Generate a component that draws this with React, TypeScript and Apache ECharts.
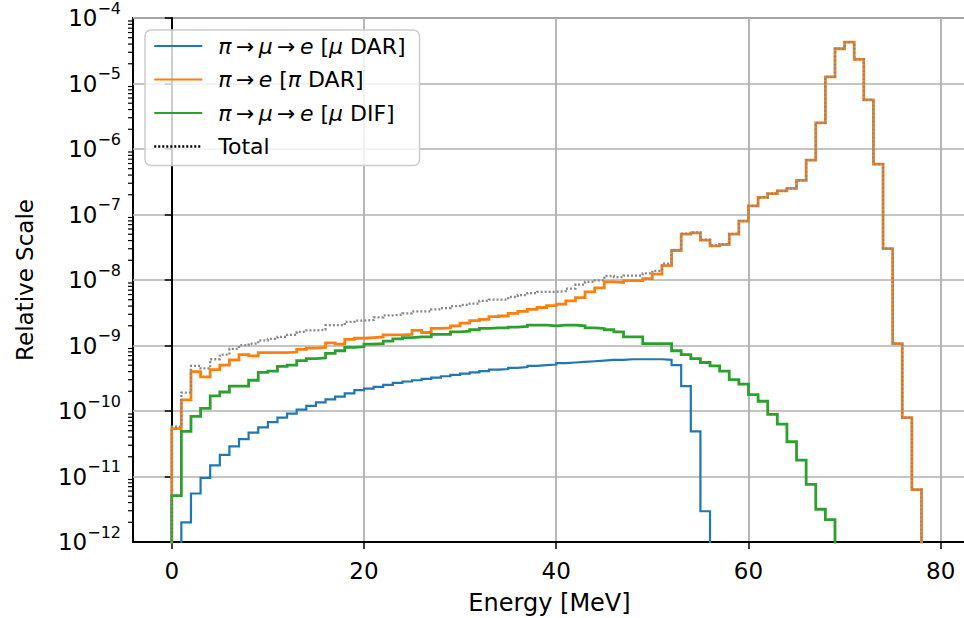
import React, { useEffect, useRef } from 'react';
import * as echarts from 'echarts';

// Histogram bins: 1 MeV wide, bin k spans [k, k+1] MeV
const MU_DAR = [0, 2.0e-12, 5.5e-12, 9.5e-12, 1.48e-11, 2.14e-11, 2.88e-11, 3.72e-11, 4.68e-11, 5.62e-11,
  6.76e-11, 7.94e-11, 9.12e-11, 1.05e-10, 1.2e-10, 1.35e-10, 1.51e-10, 1.66e-10, 1.86e-10, 2.09e-10,
  2.19e-10, 2.34e-10, 2.51e-10, 2.69e-10, 2.82e-10, 2.95e-10, 3.09e-10, 3.24e-10, 3.39e-10, 3.55e-10,
  3.72e-10, 3.89e-10, 4.07e-10, 4.27e-10, 4.37e-10, 4.57e-10, 4.68e-10, 4.9e-10, 5.01e-10, 5.13e-10,
  5.37e-10, 5.5e-10, 5.62e-10, 5.75e-10, 5.89e-10, 6.03e-10, 6.03e-10, 6.17e-10, 6.17e-10, 6.17e-10,
  6.17e-10, 6.03e-10, 5.01e-10, 2.4e-10, 4.9e-11, 2.95e-12];

const PI_DAR = [5.4e-11, 1.48e-10, 3.98e-10, 3.31e-10, 4.27e-10, 5.01e-10, 6.03e-10, 7.24e-10, 6.92e-10, 7.76e-10,
  7.76e-10, 7.76e-10, 7.94e-10, 8.71e-10, 9.12e-10, 9.33e-10, 1.1e-9, 1.05e-9, 1.24e-9, 1.29e-9,
  1.32e-9, 1.35e-9, 1.45e-9, 1.45e-9, 1.48e-9, 1.7e-9, 1.58e-9, 1.82e-9, 1.86e-9, 2.0e-9,
  2.19e-9, 2.4e-9, 2.51e-9, 2.75e-9, 2.82e-9, 3.09e-9, 3.31e-9, 3.55e-9, 3.8e-9, 4.07e-9,
  4.27e-9, 4.79e-9, 5.37e-9, 6.61e-9, 7.59e-9, 9.33e-9, 9.12e-9, 9.77e-9, 9.77e-9, 1.05e-8,
  1.23e-8, 1.66e-8, 2.82e-8, 5.01e-8, 5.25e-8, 4.07e-8, 3.31e-8, 3.47e-8, 5.01e-8, 7.94e-8,
  1.35e-7, 1.82e-7, 2.09e-7, 2.29e-7, 2.51e-7, 3.31e-7, 6.76e-7, 2.51e-6, 1.26e-5, 3.39e-5,
  4.27e-5, 2.34e-5, 5.62e-6, 5.89e-7, 3.02e-8, 1.07e-9, 7.94e-11, 6.31e-12];

const MU_DIF = [5.1e-12, 4.9e-11, 8.3e-11, 1.1e-10, 1.7e-10, 1.95e-10, 2.4e-10, 2.4e-10, 2.95e-10, 3.89e-10,
  4.07e-10, 4.79e-10, 5.01e-10, 5.89e-10, 6.31e-10, 6.46e-10, 7.59e-10, 8.32e-10, 9.33e-10, 9.55e-10,
  1.05e-9, 1.07e-9, 1.17e-9, 1.26e-9, 1.32e-9, 1.35e-9, 1.35e-9, 1.48e-9, 1.48e-9, 1.62e-9,
  1.66e-9, 1.74e-9, 1.82e-9, 1.86e-9, 1.86e-9, 1.91e-9, 1.95e-9, 2.04e-9, 2.04e-9, 2.0e-9,
  2.04e-9, 2.04e-9, 2.0e-9, 1.86e-9, 1.82e-9, 1.74e-9, 1.62e-9, 1.35e-9, 1.35e-9, 1.07e-9,
  1.07e-9, 1.07e-9, 8.32e-10, 7.24e-10, 6.31e-10, 5.5e-10, 4.9e-10, 4.07e-10, 3.02e-10, 2.57e-10,
  1.78e-10, 1.41e-10, 8.91e-11, 6.31e-11, 3.39e-11, 1.78e-11, 7.59e-12, 3.16e-12, 2.19e-12];

const TOTAL = [5.75e-11, 1.91e-10, 4.9e-10, 4.47e-10, 6.17e-10, 7.24e-10, 8.91e-10, 1.01e-9, 1.07e-9, 1.2e-9,
  1.26e-9, 1.35e-9, 1.45e-9, 1.62e-9, 1.7e-9, 1.74e-9, 2.04e-9, 2.04e-9, 2.29e-9, 2.4e-9,
  2.45e-9, 2.69e-9, 2.88e-9, 2.95e-9, 3.09e-9, 3.31e-9, 3.31e-9, 3.55e-9, 3.72e-9, 3.98e-9,
  4.17e-9, 4.37e-9, 4.79e-9, 5.01e-9, 5.01e-9, 5.5e-9, 5.89e-9, 6.31e-9, 6.61e-9, 6.61e-9,
  6.76e-9, 7.41e-9, 8.51e-9, 9.33e-9, 9.89e-9, 1.15e-8, 1.11e-8, 1.17e-8, 1.17e-8, 1.26e-8,
  1.38e-8, 1.78e-8, 2.88e-8, 5.09e-8, 5.32e-8, 4.13e-8, 3.37e-8, 3.52e-8, 5.05e-8, 7.97e-8,
  1.35e-7, 1.82e-7, 2.09e-7, 2.29e-7, 2.51e-7, 3.31e-7, 6.76e-7, 2.51e-6, 1.26e-5, 3.39e-5,
  4.27e-5, 2.34e-5, 5.62e-6, 5.89e-7, 3.02e-8, 1.07e-9, 7.94e-11, 6.31e-12];

const X_TICKS = [0, 20, 40, 60, 80];
const Y_DECADES = [-12, -11, -10, -9, -8, -7, -6, -5];
const MINOR_MULTS = [2, 3, 4, 5, 6, 7, 8, 9];

const NAMES = {
  muDar: 'π→μ→e [μ DAR]',
  piDar: 'π→e [π DAR]',
  muDif: 'π→μ→e [μ DIF]',
  total: 'Total',
};

const LEGEND_RICH: Record<string, string> = {
  [NAMES.muDar]: '{i|π}{n|\u2009→\u2009}{i|μ}{n|\u2009→\u2009}{i|e}{n| [}{i|μ}{n| DAR]}',
  [NAMES.piDar]: '{i|π}{n|\u2009→\u2009}{i|e}{n| [}{i|π}{n| DAR]}',
  [NAMES.muDif]: '{i|π}{n|\u2009→\u2009}{i|μ}{n|\u2009→\u2009}{i|e}{n| [}{i|μ}{n| DIF]}',
  [NAMES.total]: '{n|Total}',
};

const EMPTY = 1e-13; // empty bins are drawn below the axis floor
const X_MIN = -4.03;
const X_MAX = 82.63;
const FONT = 'DejaVu Sans';
const FS_TICK = 23;
const FS_NAME = 23;
const FS_LEG = 22;

function stepPoints(vals: number[]): [number, number][] {
  const pts: [number, number][] = [[0, EMPTY]];
  vals.forEach((v, i) => pts.push([i, v > 0 ? v : EMPTY]));
  pts.push([vals.length, EMPTY]);
  return pts;
}

function minorTickData(): [number, number][] {
  const out: [number, number][] = [];
  Y_DECADES.forEach((d) => MINOR_MULTS.forEach((m) => out.push([X_MIN, m * Math.pow(10, d)])));
  return out;
}

export default function App() {
  const ref = useRef<HTMLDivElement>(null);

  useEffect(() => {
    document.body.style.margin = '0';
    const chart = echarts.init(ref.current!, null, { renderer: 'svg' });

    const lineSeries = (name: string, vals: number[], color: string, width: number, type: any, z: number) => ({
      type: 'line',
      name,
      data: stepPoints(vals),
      step: 'end',
      symbol: 'none',
      showSymbol: false,
      clip: true,
      z,
      lineStyle: { color, width, type, cap: 'butt', join: 'miter' },
      itemStyle: { color },
    });

    chart.setOption({
      animation: false,
      backgroundColor: '#ffffff',
      grid: {
        left: 133,
        top: 18,
        width: 833,
        height: 524,
        show: true,
        borderColor: '#000',
        borderWidth: 2,
        backgroundColor: 'transparent',
        outerBoundsMode: 'none',
        containLabel: false,
      },
      legend: {
        orient: 'vertical',
        left: 145,
        top: 30,
        padding: [5, 14, 8, 8],
        itemWidth: 48,
        itemHeight: 14,
        itemGap: 11.5,
        backgroundColor: 'rgba(255,255,255,0.8)',
        borderColor: '#cccccc',
        borderWidth: 1.5,
        borderRadius: 6,
        selectedMode: false,
        itemStyle: { opacity: 0 },
        data: [
          { name: NAMES.muDar },
          { name: NAMES.piDar },
          { name: NAMES.muDif },
          { name: NAMES.total, lineStyle: { color: '#000000', type: [2, 2], width: 2.5 } },
        ],
        formatter: (name: string) => LEGEND_RICH[name] || name,
        textStyle: {
          fontFamily: FONT,
          fontSize: FS_LEG,
          color: '#000',
          padding: [0, 0, 0, 11],
          rich: {
            i: { fontFamily: FONT, fontSize: FS_LEG, fontStyle: 'italic', lineHeight: 24, color: '#000' },
            n: { fontFamily: FONT, fontSize: FS_LEG, lineHeight: 24, color: '#000' },
          },
        },
      },
      xAxis: {
        type: 'value',
        min: X_MIN,
        max: X_MAX,
        name: 'Energy [MeV]',
        nameLocation: 'middle',
        nameGap: 49,
        nameTextStyle: { fontFamily: FONT, fontSize: FS_NAME + 1, color: '#000' },
        axisLine: { show: true, onZero: false, lineStyle: { color: '#000', width: 2 } },
        axisTick: { show: true, length: 7, inside: false, customValues: X_TICKS, lineStyle: { color: '#000', width: 1.5 } },
        axisLabel: {
          show: true,
          customValues: X_TICKS,
          margin: 17,
          fontFamily: FONT,
          fontSize: FS_TICK,
          color: '#000',
          formatter: (v: number) => String(v),
        },
        splitLine: { show: true, lineStyle: { color: '#b0b0b0', width: 1.8 } },
      },
      yAxis: {
        type: 'log',
        logBase: 10,
        min: 1e-12,
        max: 1e-4,
        name: 'Relative Scale',
        nameLocation: 'middle',
        nameGap: 97,
        nameRotate: 90,
        nameTextStyle: { fontFamily: FONT, fontSize: FS_NAME, color: '#000' },
        axisLine: { show: true, lineStyle: { color: '#000', width: 2 } },
        axisTick: { show: true, length: 7, inside: false, lineStyle: { color: '#000', width: 1.5 } },
        axisLabel: {
          margin: 12,
          color: '#000',
          formatter: (v: number) => {
            const e = Math.round(Math.log10(v));
            return '{b|10}{s|\u2212' + String(-e) + '}';
          },
          rich: {
            b: { fontFamily: FONT, fontSize: FS_TICK, lineHeight: 36, verticalAlign: 'middle', color: '#000' },
            s: { fontFamily: FONT, fontSize: 16, verticalAlign: 'top', color: '#000' },
          },
        },
        splitLine: { show: true, lineStyle: { color: '#b0b0b0', width: 1.6 } },
        minorTick: { show: false },
      },
      series: [
        lineSeries(NAMES.muDar, MU_DAR, '#1f77b4', 2.2, 'solid', 3),
        lineSeries(NAMES.piDar, PI_DAR, '#ff7f0e', 2.8, 'solid', 4),
        lineSeries(NAMES.muDif, MU_DIF, '#2ca02c', 2.8, 'solid', 5),
        lineSeries(NAMES.total, TOTAL, '#888888', 2.3, [2, 2], 6),
        {
          type: 'custom',
          name: 'minorTicks',
          data: minorTickData(),
          clip: false,
          silent: true,
          z: 10,
          encode: { x: 0, y: 1 },
          renderItem: (params: any, api: any) => {
            const y = api.coord([api.value(0), api.value(1)])[1];
            const x0 = params.coordSys.x;
            return {
              type: 'line',
              shape: { x1: x0 - 5, y1: y, x2: x0 - 1, y2: y },
              style: { stroke: '#000', lineWidth: 1.2 },
            };
          },
        },
      ],
    });

    return () => chart.dispose();
  }, []);

  return <div ref={ref} style={{ position: 'absolute', left: 0, top: 0, width: 964, height: 618 }} />;
}
